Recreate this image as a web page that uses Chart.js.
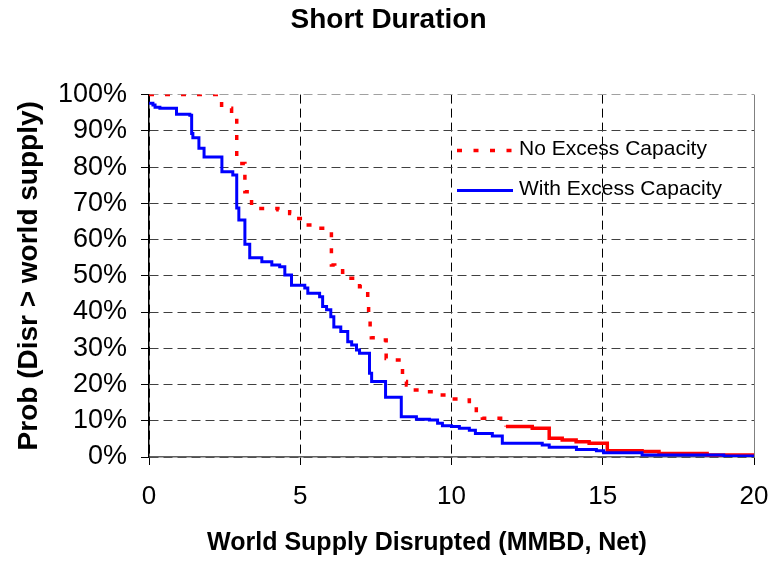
<!DOCTYPE html>
<html>
<head>
<meta charset="utf-8">
<title>Short Duration</title>
<script src="https://cdn.jsdelivr.net/npm/chart.js@4.4.0/dist/chart.umd.min.js"></script>
<style>
  html, body { margin: 0; padding: 0; background: #fff; }
</style>
</head>
<body>
<canvas id="myChart" width="771" height="561"></canvas>
<script>
// Step curves: each x is where the probability drops to the matching value
const noExcessX    = [0, 2.40, 2.73, 2.90, 3.17, 3.39, 4.26, 4.65, 4.75, 5.20, 5.53, 5.74, 6.03, 6.14, 6.40, 6.57, 6.73, 6.96, 7.23, 7.26, 7.31, 7.35, 7.56, 7.84, 7.95, 8.38, 8.45, 8.51, 8.72, 9.00, 9.54, 9.82, 10.32, 10.59, 10.82, 11.02, 11.80, 12.67, 13.23, 13.66, 14.12, 14.55, 15.15, 16.30, 16.86, 18.45, 20];
const noExcessProb = [100, 96.2, 95.4, 81.0, 73.2, 68.6, 68.2, 67.2, 65.8, 64.0, 63.1, 62.6, 53.0, 52.0, 51.0, 49.3, 48.8, 47.0, 41.5, 39.2, 34.6, 32.9, 32.3, 27.2, 26.8, 21.2, 20.8, 19.9, 18.5, 18.0, 17.1, 16.0, 15.7, 14.8, 11.1, 10.7, 8.4, 7.9, 5.2, 4.7, 4.2, 3.8, 1.7, 1.5, 1.0, 0.55, 0.55];

const withExcessX    = [0, 0.13, 0.20, 0.36, 0.91, 1.35, 1.41, 1.45, 1.65, 1.82, 2.41, 2.77, 2.90, 2.97, 3.17, 3.33, 3.73, 4.06, 4.32, 4.49, 4.71, 5.15, 5.25, 5.64, 5.74, 5.87, 6.01, 6.11, 6.34, 6.57, 6.70, 6.86, 6.96, 7.29, 7.36, 7.82, 8.34, 8.84, 9.27, 9.54, 9.70, 10.00, 10.26, 10.59, 10.79, 11.35, 11.68, 13.00, 13.23, 14.13, 14.79, 15.03, 16.30, 19.00, 20];
const withExcessProb = [97.6, 97.1, 96.5, 96.2, 94.6, 94.3, 89.3, 88.1, 85.2, 82.8, 78.7, 77.8, 68.7, 65.4, 58.7, 55.0, 53.9, 53.0, 52.5, 50.2, 47.4, 46.6, 45.2, 44.2, 41.5, 40.6, 38.7, 35.9, 34.6, 31.8, 30.9, 29.5, 28.6, 23.1, 20.8, 16.5, 11.1, 10.4, 10.2, 9.3, 8.6, 8.4, 7.9, 7.4, 6.5, 5.8, 3.8, 3.3, 2.7, 2.1, 1.7, 1.2, 0.55, 0.3, 0.3];

const seriesNames = ['No Excess Capacity', 'With Excess Capacity'];
const xTicks = [0, 5, 10, 15, 20];
const xTitle = 'World Supply Disrupted (MMBD, Net)';

const FONT = "'Liberation Sans', Arial, sans-serif";
const RED = '#ff0000';
const BLUE = '#0000ff';

const toPoints = (xs, ys) => xs.map((x, i) => ({ x: x, y: ys[i] }));

// red line turns solid where the steps get dense
const solidFrom = 11.5;

// legend inside the plot, solid right frame edge and the x axis title
const insideLegend = {
  id: 'insideLegend',
  afterDraw(chart) {
    const ctx = chart.ctx;
    const a = chart.chartArea;
    const lx = a.left + 308, rows = [a.top + 56, a.top + 96];
    ctx.save();
    ctx.strokeStyle = '#808080';
    ctx.lineWidth = 1;
    ctx.beginPath();
    ctx.moveTo(a.right + 0.5, a.top);
    ctx.lineTo(a.right + 0.5, a.bottom);
    ctx.stroke();

    ctx.lineWidth = 3.5;
    ctx.strokeStyle = RED;
    ctx.setLineDash([5, 11.5]);
    ctx.beginPath();
    ctx.moveTo(lx, rows[0]);
    ctx.lineTo(lx + 57, rows[0]);
    ctx.stroke();

    ctx.setLineDash([]);
    ctx.lineWidth = 3;
    ctx.strokeStyle = BLUE;
    ctx.beginPath();
    ctx.moveTo(lx, rows[1]);
    ctx.lineTo(lx + 56, rows[1]);
    ctx.stroke();

    ctx.fillStyle = '#000';
    ctx.font = '21px ' + FONT;
    ctx.textBaseline = 'middle';
    ctx.textAlign = 'left';
    ctx.fillText(seriesNames[0], lx + 62, rows[0] - 1);
    ctx.fillText(seriesNames[1], lx + 62, rows[1] - 1);

    ctx.font = 'bold 25px ' + FONT;
    ctx.textAlign = 'center';
    ctx.fillText(xTitle, a.left + 278, a.bottom + 86);
    ctx.restore();
  }
};

const ctx = document.getElementById('myChart').getContext('2d');

const myChart = new Chart(ctx, {
  type: 'line',
  data: {
    datasets: [{
      label: seriesNames[0],
      data: toPoints(noExcessX, noExcessProb),
      borderColor: RED,
      borderWidth: 3.5,
      borderDash: [5, 11],
      segment: {
        borderDash: c => (c.p0.parsed.x >= solidFrom ? [] : [5, 11])
      },
      stepped: 'before',
      pointRadius: 0,
      fill: false,
      order: 1
    }, {
      label: seriesNames[1],
      data: toPoints(withExcessX, withExcessProb),
      borderColor: BLUE,
      borderWidth: 3,
      stepped: 'before',
      pointRadius: 0,
      fill: false,
      order: 0
    }]
  },
  options: {
    responsive: false,
    animation: false,
    layout: { padding: { left: 23, right: 17, top: 0, bottom: 0 } },
    plugins: {
      legend: { display: false },
      tooltip: { enabled: false },
      title: {
        display: true,
        text: 'Short Duration',
        color: '#000',
        font: { family: FONT, size: 28, weight: 'bold' },
        padding: { top: 3, bottom: 58 }
      }
    },
    scales: {
      x: {
        type: 'linear',
        min: 0,
        max: 20,
        afterBuildTicks: scale => { scale.ticks = xTicks.map(v => ({ value: v })); },
        afterFit: scale => {
          scale.height = 104;
          scale.paddingLeft = 0;
          scale.paddingRight = 0;
        },
        ticks: {
          color: '#000',
          padding: 16,
          maxRotation: 0,
          font: { family: FONT, size: 26 }
        },
        grid: {
          color: c => (c.tick && c.tick.value === 20 ? 'rgba(0,0,0,0)' : '#000'),
          tickColor: '#000',
          tickLength: 8,
          lineWidth: 1
        },
        border: { display: true, color: '#606060', width: 1.5, dash: [9, 5] },
        title: { display: false }
      },
      y: {
        min: 0,
        max: 100,
        afterFit: scale => { scale.width = 126; },
        ticks: {
          stepSize: 10,
          color: '#000',
          padding: 14,
          font: { family: FONT, size: 27 },
          callback: v => v + '%'
        },
        grid: {
          color: c => (c.tick && c.tick.value === 100 ? '#a0a0a0' : '#404040'),
          tickColor: '#000',
          tickLength: 8,
          lineWidth: 1
        },
        border: { display: true, color: '#000', width: 1.5, dash: [9, 5] },
        title: {
          display: true,
          text: 'Prob (Disr > world supply)',
          color: '#000',
          font: { family: FONT, size: 28, weight: 'bold' },
          padding: { top: -11, bottom: 0 }
        }
      }
    }
  },
  plugins: [insideLegend]
});
</script>
</body>
</html>
